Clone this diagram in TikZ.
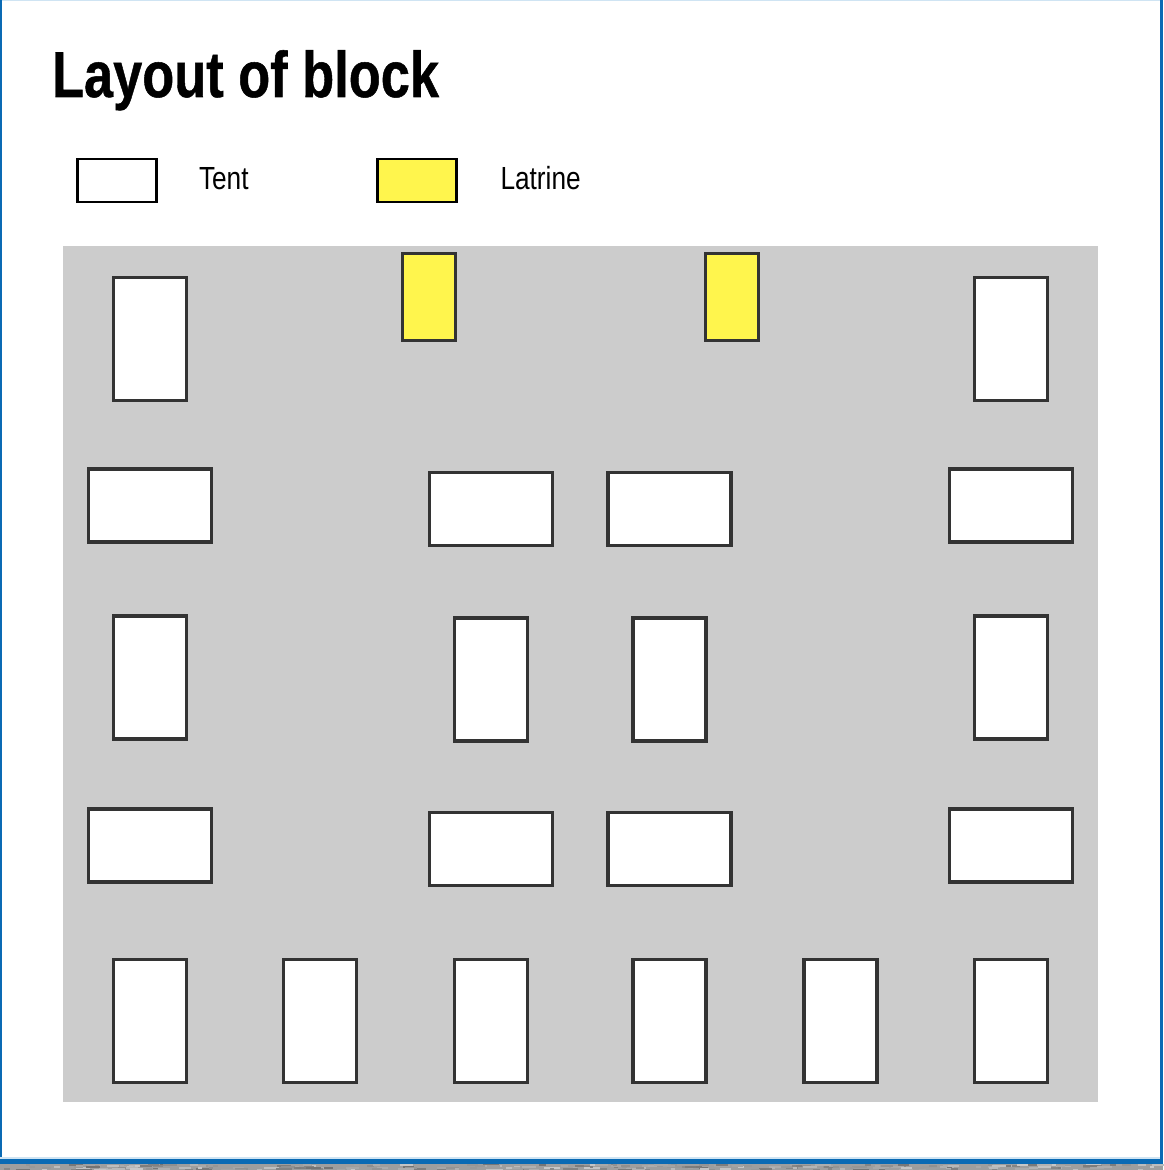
\documentclass[tikz,border=0pt]{standalone}
\usepackage{graphicx}
\usepackage{fontspec}
\setmainfont{Liberation Sans}
\newfontfamily\titlefont[BoldFeatures={FakeBold=0.8}]{Liberation Sans}
\definecolor{bluebar}{HTML}{0A6AB4}
\definecolor{paleblue}{HTML}{CFE4F3}
\definecolor{yard}{HTML}{CCCCCC}
\definecolor{latr}{HTML}{FFF54D}
\definecolor{edge}{HTML}{333333}
\tikzset{
  px/.style={x=0.75pt,y=-0.75pt},
  box/.style={draw=edge,fill=white,line width=2.5pt,inner sep=0pt,outer sep=0pt,rectangle},
  tall/.style={box,minimum width=54.8pt,minimum height=92.3pt},
  wide/.style={box,minimum width=92.3pt,minimum height=54.8pt},
  latrine/.style={box,fill=latr,line width=1.8pt,minimum width=39.8pt,minimum height=65.4pt},
  legendbox/.style={draw=black,line width=1.8pt,inner sep=0pt,outer sep=0pt,rectangle,minimum width=59.4pt,minimum height=31.8pt},
  legendtext/.style={inner sep=0pt,outer sep=0pt,anchor=base west,font=\fontsize{24}{28}\selectfont}
}
\begin{document}
\begin{tikzpicture}[px]
\useasboundingbox (0,0) rectangle (1163,1170);
\fill[white] (0,0) rectangle (1163,1170);
% frame
\fill[paleblue] (0,0) rectangle (1163,1.5);
\fill[bluebar] (0,0) rectangle (1.6,1158);
\fill[bluebar] (1160,0) rectangle (1163,1163);
\fill[paleblue] (0,1157) rectangle (1160,1158.5);
\fill[bluebar] (0,1158.5) rectangle (1163,1163.5);
% textured strip
\fill[black!38] (0,1163.5) rectangle (1163,1170);
\pgfmathsetseed{7}
\foreach \i in {1,...,260}{
  \pgfmathsetmacro{\xa}{random(0,1155)}
  \pgfmathsetmacro{\ya}{1163.5+random(0,5)}
  \pgfmathsetmacro{\wa}{random(4,16)}
  \pgfmathsetmacro{\sh}{random(22,55)}
  \fill[black!\sh] (\xa,\ya) rectangle ++(\wa,2);
}
% title and legend
\node[inner sep=0pt,outer sep=0pt,anchor=base west] (title) at (52,97)
  {\scalebox{0.81}[1]{\fontsize{48.5}{56}\selectfont\titlefont\bfseries Layout of block}};
\node[legendbox,fill=white] (legendtent) at (117,180.5) {};
\node[legendtext] (tenttext) at (199,189.5) {\scalebox{0.82}[1]{Tent}};
\node[legendbox,fill=latr] (legendlatrine) at (417,180.5) {};
\node[legendtext] (latrinetext) at (500.5,189.5) {\scalebox{0.82}[1]{Latrine}};
% yard
\node[fill=yard,inner sep=0pt,outer sep=0pt,minimum width=776.25pt,minimum height=642pt] (yardarea) at (580.5,674) {};
% latrines
\node[latrine] (l1) at (429,297) {};
\node[latrine] (l2) at (732,297) {};
% row 1
\node[tall] (a1) at (150,339) {};
\node[tall] (a2) at (1011,339) {};
% row 2
\node[wide] (b1) at (150,505.5) {};
\node[wide] (b2) at (491,509) {};
\node[wide] (b3) at (669.5,509) {};
\node[wide] (b4) at (1011,505.5) {};
% row 3
\node[tall] (c1) at (150,677.5) {};
\node[tall] (c2) at (491,679.5) {};
\node[tall] (c3) at (669.5,679.5) {};
\node[tall] (c4) at (1011,677.5) {};
% row 4
\node[wide] (d1) at (150,845.5) {};
\node[wide] (d2) at (491,849) {};
\node[wide] (d3) at (669.5,849) {};
\node[wide] (d4) at (1011,845.5) {};
% row 5
\node[tall] (e1) at (150,1021) {};
\node[tall] (e2) at (320,1021) {};
\node[tall] (e3) at (491,1021) {};
\node[tall] (e4) at (669.5,1021) {};
\node[tall] (e5) at (840.5,1021) {};
\node[tall] (e6) at (1011,1021) {};
\end{tikzpicture}
\end{document}
